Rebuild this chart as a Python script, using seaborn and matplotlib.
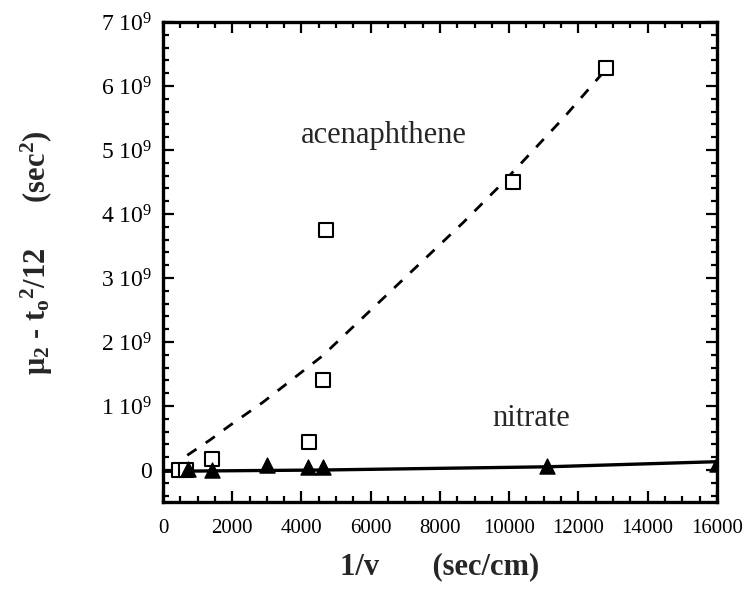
import matplotlib
matplotlib.use("Agg")
import matplotlib.pyplot as plt
import seaborn as sns
import numpy as np
import pandas as pd
from matplotlib.ticker import MultipleLocator

# ---- data ----
acen_x = [450, 650, 1420, 4220, 4630, 4700, 10100, 12790]
acen_y = [0.0e9, 0.0e9, 0.17e9, 0.44e9, 1.40e9, 3.75e9, 4.50e9, 6.28e9]

acen_fit_x = [700, 1360, 1940, 2890, 4600, 8680, 9750, 10620, 11570, 12700]
acen_fit_y = [0.23e9, 0.47e9, 0.70e9, 1.06e9, 1.78e9, 3.87e9, 4.45e9, 4.95e9, 5.50e9, 6.20e9]

nit_x = [730, 1420, 3000, 4200, 4630, 11100, 16000]
nit_y = [0.02e9, 0.0e9, 0.08e9, 0.05e9, 0.04e9, 0.07e9, 0.10e9]

nit_fit_x = [0, 4600, 11100, 16000]
nit_fit_y = [-0.02e9, 0.0e9, 0.05e9, 0.13e9]

xticks = [0, 2000, 4000, 6000, 8000, 10000, 12000, 14000, 16000]
xtick_labels = ["0", "2000", "4000", "6000", "8000", "10000", "12000", "14000", "16000"]
yticks = [0, 1e9, 2e9, 3e9, 4e9, 5e9, 6e9, 7e9]
ytick_labels = ["0", "1 10$^9$", "2 10$^9$", "3 10$^9$", "4 10$^9$", "5 10$^9$", "6 10$^9$", "7 10$^9$"]

sns.set_theme(style="ticks")
plt.rcParams["font.family"] = ["Liberation Serif", "DejaVu Serif"]
plt.rcParams["mathtext.fontset"] = "custom"
plt.rcParams["mathtext.rm"] = "Liberation Serif"
plt.rcParams["mathtext.it"] = "Liberation Serif:italic"
plt.rcParams["mathtext.bf"] = "Liberation Serif:bold"

fig = plt.figure(figsize=(7.53, 5.92), dpi=100)
ax = fig.add_axes([0.2165, 0.152, 0.7355, 0.811])

sns.lineplot(x=acen_fit_x, y=acen_fit_y, ax=ax, color="black", lw=2.0,
             linestyle=(0, (4, 4)), sort=False, estimator=None)
sns.lineplot(x=nit_fit_x, y=nit_fit_y, ax=ax, color="black", lw=2.4,
             sort=False, estimator=None)
sns.scatterplot(x=acen_x, y=acen_y, ax=ax, marker="s", s=100,
                facecolor="white", edgecolor="black", linewidth=1.5, zorder=3)
sns.scatterplot(x=nit_x, y=nit_y, ax=ax, marker="^", s=120,
                color="black", edgecolor="black", zorder=4)

ax.set_xlim(0, 16000)
ax.set_ylim(-0.5e9, 7e9)
ax.set_xticks(xticks)
ax.set_xticklabels(xtick_labels)
ax.set_yticks(yticks)
ax.set_yticklabels(ytick_labels)
ax.xaxis.set_minor_locator(MultipleLocator(500))
ax.yaxis.set_minor_locator(MultipleLocator(2e8))
ax.tick_params(which="both", direction="in", top=True, right=True,
               width=1.6, colors="black")
ax.tick_params(which="major", length=8)
ax.tick_params(which="minor", length=4)
ax.tick_params(axis="x", labelsize=15, pad=12)
ax.tick_params(axis="y", labelsize=17, pad=8)
for sp in ax.spines.values():
    sp.set_linewidth(2.4)
    sp.set_color("black")

ax.text(6370, 5.23e9, "acenaphthene", fontsize=22, ha="center", va="center")
ax.text(10650, 0.80e9, "nitrate", fontsize=22, ha="center", va="center")

ax.set_xlabel("1/v       (sec/cm)", fontsize=22, fontweight="bold")
ax.xaxis.set_label_coords(0.5, -0.105)
ax.set_ylabel(r"μ$_\mathbf{2}$ - t$_\mathbf{o}$$^\mathbf{2}$/12      (sec$^\mathbf{2}$)",
              fontsize=22, fontweight="bold")
ax.yaxis.set_label_coords(-0.195, 0.52)

fig.savefig("out.png", dpi=100)
